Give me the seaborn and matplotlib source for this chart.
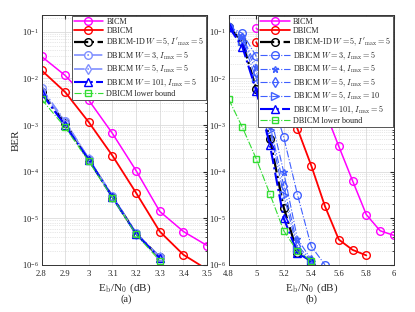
import numpy as np
import pandas as pd
import matplotlib
matplotlib.use('Agg')
import matplotlib.pyplot as plt
import seaborn as sns

sns.set_style('white')
plt.rcParams['font.family'] = ['Liberation Serif', 'DejaVu Serif']
plt.rcParams['mathtext.fontset'] = 'cm'

# ---- panel (a) data ----
snr_a = [2.8, 2.9, 3.0, 3.1, 3.2, 3.3, 3.4, 3.5]
snr_a_short = [2.8, 2.9, 3.0, 3.1, 3.2, 3.3]
bicm_a = [2.97e-2, 1.16e-2, 3.4e-3, 6.6e-4, 1.05e-4, 1.4e-5, 5.2e-6, 2.6e-6]
dbicm_a = [1.5e-2, 5.1e-3, 1.15e-3, 2.2e-4, 3.5e-5, 5.2e-6, 1.65e-6, 8e-7]
id_a = [5.0e-3, 1.1e-3, 1.8e-4, 2.9e-5, 4.7e-6, 1.45e-6]
w3_a = [6.2e-3, 1.2e-3, 1.9e-4, 3.0e-5, 4.8e-6, 1.5e-6]
w5_a = [5.5e-3, 1.15e-3, 1.85e-4, 2.9e-5, 4.7e-6, 1.45e-6]
w101_a = [4.8e-3, 9.8e-4, 1.8e-4, 2.8e-5, 4.6e-6, 1.4e-6]
lb_a = [3.6e-3, 8.9e-4, 1.66e-4, 2.75e-5, 4.5e-6, 1.23e-6]

# ---- panel (b) data ----
snr_b_bicm = [5.0, 5.1, 5.2, 5.3, 5.4, 5.5, 5.6, 5.7, 5.8, 5.9, 6.0]
bicm_b = [1.2e-1, 6.3e-2, 2.8e-2, 1.25e-2, 4.5e-3, 2.0e-3, 3.5e-4, 6.4e-5, 1.2e-5, 5.4e-6, 4.3e-6]
snr_b_dbicm = [5.0, 5.1, 5.2, 5.3, 5.4, 5.5, 5.6, 5.7, 5.8]
dbicm_b = [6e-2, 1.6e-2, 3.5e-3, 8.3e-4, 1.35e-4, 1.8e-5, 3.5e-6, 2.1e-6, 1.6e-6]
snr_b_id = [4.8, 4.9, 5.0, 5.1, 5.2, 5.3]
id_b = [0.13, 6e-2, 6e-3, 5e-4, 1.7e-5, 1.8e-6]
snr_b_w3 = [4.8, 4.9, 5.0, 5.1, 5.2, 5.3, 5.4, 5.5]
w3_b = [0.13, 9.3e-2, 3e-2, 5e-3, 5.5e-4, 3.2e-5, 2.5e-6, 1e-6]
snr_b = [4.8, 4.9, 5.0, 5.1, 5.2, 5.3, 5.4]
w4_b = [0.13, 8e-2, 1.8e-2, 1.8e-3, 9.8e-5, 3.6e-6, 1.3e-6]
w5_b = [0.13, 7.5e-2, 1.4e-2, 1e-3, 5e-5, 2.6e-6, 1.25e-6]
w5i10_b = [0.13, 6.5e-2, 1e-2, 8e-4, 3.2e-5, 2.2e-6, 1.2e-6]
w101_b = [0.13, 4.7e-2, 5.5e-3, 3.7e-4, 1e-5, 1.8e-6, 1.2e-6]
lb_b = [3.6e-3, 8.9e-4, 1.9e-4, 3.3e-5, 5.4e-6, 1.95e-6, 1.23e-6]

MAG = '#ff00ff'
RED = '#ff0000'
LBLUE = '#8090ff'
MBLUE = '#4060ff'
BLUE = '#0000ff'
GREEN = '#33dd33'

lbl_id = r"DBICM-ID $W=5, I'_{\max}=5$"


def draw(ax, x, y, label, color, marker, ls, lw, ms=5.5):
    sns.lineplot(x=x, y=y, ax=ax, label=label, color=color, marker=marker,
                 linestyle=ls, linewidth=lw, markersize=ms,
                 markerfacecolor='none', markeredgecolor=color,
                 markeredgewidth=1.0, sort=False, estimator=None)


def style(ax, xlim, xticks):
    ax.set_yscale('log')
    ax.set_xlim(*xlim)
    ax.set_ylim(1e-6, 0.23)
    ax.set_xticks(xticks)
    ax.set_xticklabels([f'{t:g}' for t in xticks])
    ax.set_yticks([1e-6, 1e-5, 1e-4, 1e-3, 1e-2, 1e-1])
    ax.grid(True, which='major', color='#dcdcdc', linewidth=0.6)
    ax.grid(True, which='minor', axis='y', color='#d0d0d0', linewidth=0.5, linestyle=':')
    ax.tick_params(which='both', direction='in', labelsize=6.2, top=True, right=True)
    ax.tick_params(axis='y', pad=2.0)
    ax.tick_params(axis='x', pad=4.0)
    ax.tick_params(which='major', length=3)
    ax.tick_params(which='minor', length=1.5)
    for s in ax.spines.values():
        s.set_color('#333333')
        s.set_linewidth(0.7)
    ax.set_xlabel(r'E$_\mathrm{b}$/N$_0$ (dB)', fontsize=8, labelpad=2)


fig = plt.figure(figsize=(4.15, 3.12), dpi=100)
ax1 = fig.add_axes([0.100, 0.151, 0.399, 0.801])
ax2 = fig.add_axes([0.551, 0.151, 0.398, 0.801])

# panel (a)
draw(ax1, snr_a, bicm_a, 'BICM', MAG, 'o', '-', 1.1)
draw(ax1, snr_a, dbicm_a, 'DBICM', RED, 'o', '-', 1.3)
draw(ax1, snr_a_short, id_a, lbl_id, 'black', 'o', '-.', 1.6)
draw(ax1, snr_a_short, w3_a, r'DBICM $W=3, I_{\max}=5$', LBLUE, 'o', '-.', 1.2)
draw(ax1, snr_a_short, w5_a, r'DBICM $W=5, I_{\max}=5$', LBLUE, 'd', '-.', 1.2)
draw(ax1, snr_a_short, w101_a, r'DBICM $W=101, I_{\max}=5$', BLUE, '^', '-.', 1.5)
draw(ax1, snr_a_short, lb_a, 'DBICM lower bound', GREEN, 's', '-.', 0.8, ms=4.5)
style(ax1, (2.8, 3.5), [2.8, 2.9, 3.0, 3.1, 3.2, 3.3, 3.4, 3.5])
ax1.set_ylabel('BER', fontsize=8, labelpad=1)

# panel (b)
draw(ax2, snr_b_bicm, bicm_b, 'BICM', MAG, 'o', '-', 1.1)
draw(ax2, snr_b_dbicm, dbicm_b, 'DBICM', RED, 'o', '-', 1.3)
draw(ax2, snr_b_id, id_b, lbl_id, 'black', 'o', '-.', 1.6)
draw(ax2, snr_b_w3, w3_b, r'DBICM $W=3, I_{\max}=5$', MBLUE, 'o', '-.', 0.8)
draw(ax2, snr_b, w4_b, r'DBICM $W=4, I_{\max}=5$', MBLUE, '*', '-.', 0.8, ms=4.5)
draw(ax2, snr_b, w5_b, r'DBICM $W=5, I_{\max}=5$', MBLUE, 'd', '-.', 0.8)
draw(ax2, snr_b, w5i10_b, r'DBICM $W=5, I_{\max}=10$', MBLUE, '>', '-.', 0.8)
draw(ax2, snr_b, w101_b, r'DBICM $W=101, I_{\max}=5$', BLUE, '^', '-.', 1.5)
draw(ax2, snr_b, lb_b, 'DBICM lower bound', GREEN, 's', '-.', 0.8, ms=4.5)
style(ax2, (4.8, 6.0), [4.8, 5.0, 5.2, 5.4, 5.6, 5.8, 6.0])

for ax in (ax1, ax2):
    leg = ax.legend(loc='upper right', fontsize=5.9, frameon=True, fancybox=False,
                    numpoints=1, handlelength=3.6, handletextpad=0.4, labelspacing=0.12,
                    borderpad=0.25, borderaxespad=0.1)
    leg.get_frame().set_edgecolor('#555555')
    leg.get_frame().set_linewidth(0.7)
    leg.get_frame().set_alpha(1.0)

fig.text(0.303, 0.033, '(a)', ha='center', fontsize=7.5)
fig.text(0.75, 0.033, '(b)', ha='center', fontsize=7.5)

fig.savefig('out.png', dpi=100)
